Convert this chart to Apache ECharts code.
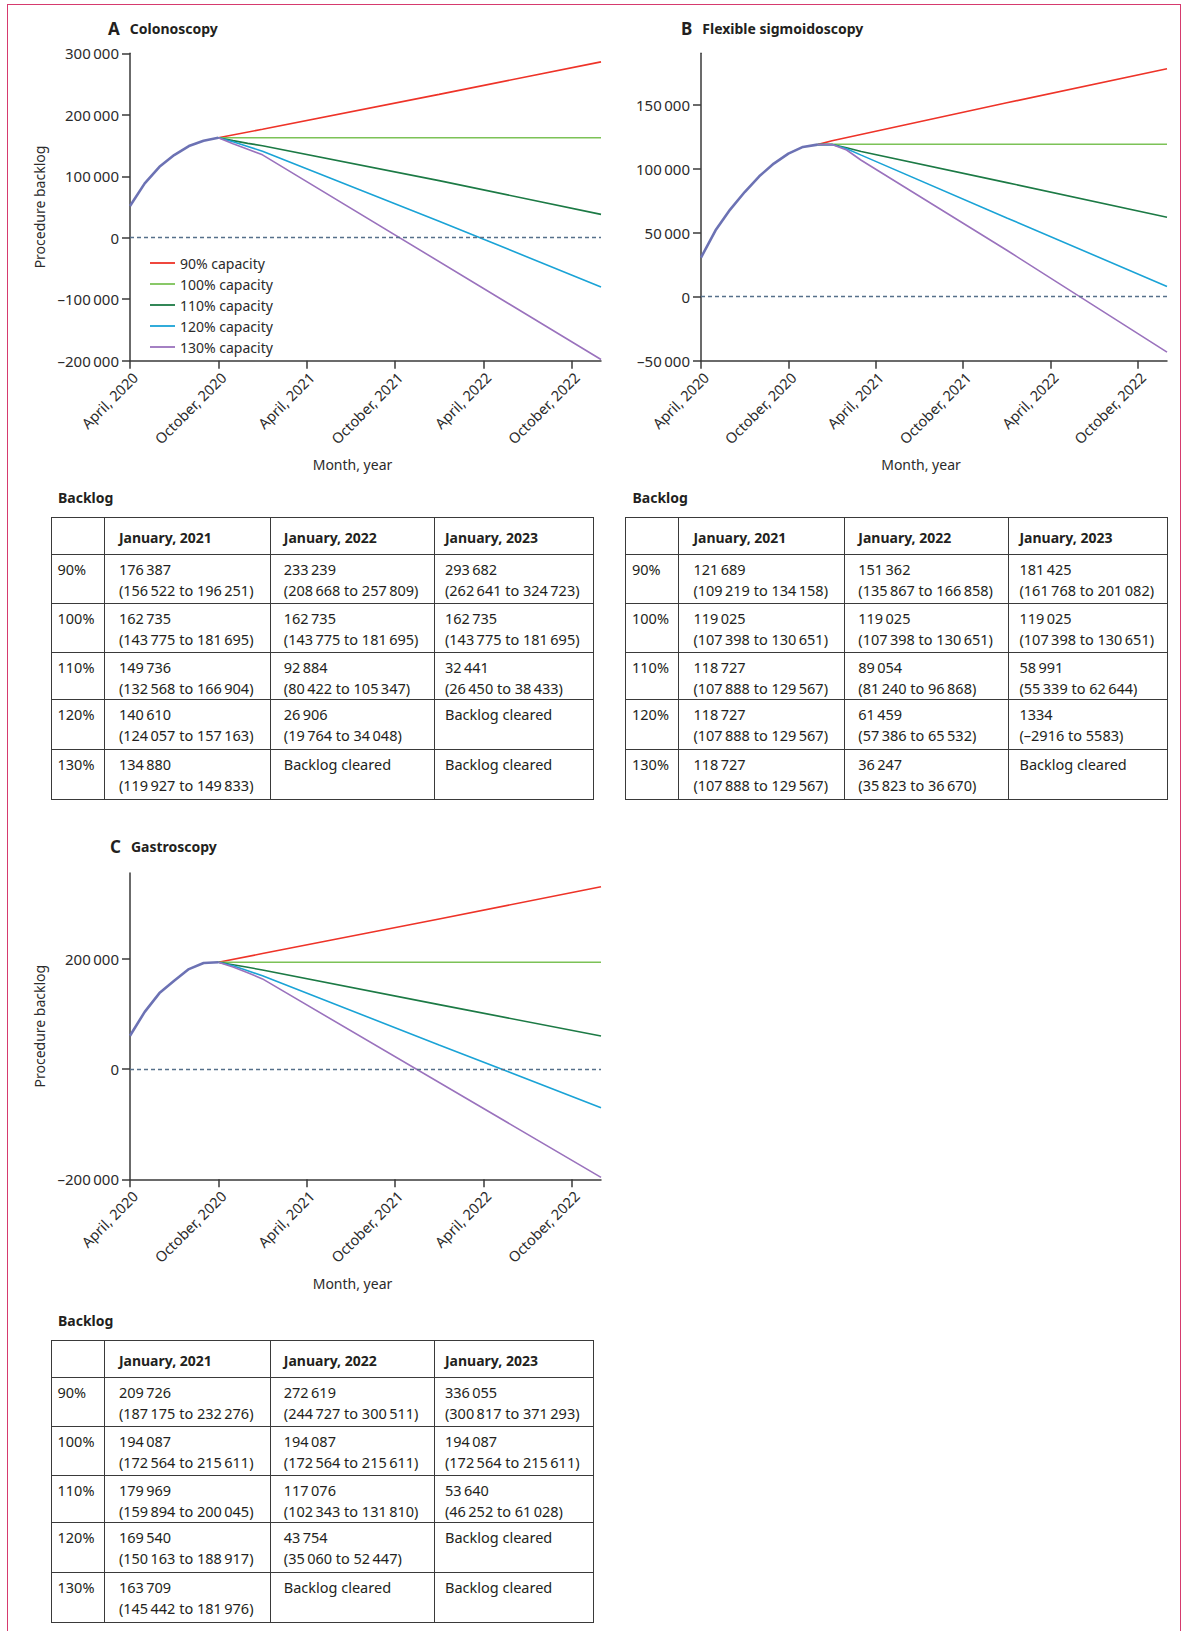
<!DOCTYPE html>
<html>
<head>
<meta charset="utf-8">
<script src="https://cdn.jsdelivr.net/npm/echarts@6/dist/echarts.min.js"></script>
<style>
  html, body { margin:0; padding:0; background:#fff; width:1184px; height:1631px; overflow:hidden; }
  #frame { position:absolute; left:7px; top:4px; width:1174px; height:1700px; border:1.5px solid #d63a6e; box-sizing:border-box; }
  #chart { position:absolute; left:0; top:0; width:1184px; height:1631px; }
  .tt { position:absolute; font-family:'Noto Sans', sans-serif; font-weight:bold; font-size:14px; color:#231f20; line-height:20px; }
  table.bt { position:absolute; border-collapse:collapse; table-layout:fixed; font-family:'Noto Sans', sans-serif; font-size:14.5px; color:#231f20; }
  table.bt td, table.bt th { border:1.5px solid #3a3a3a; vertical-align:top; padding:4px 2px 0 13px; line-height:21px; text-align:left; white-space:nowrap; overflow:hidden; }
  table.bt th { font-weight:bold; font-size:14px; vertical-align:middle; padding-top:3px; }
  table.bt .c0 { padding-left:6px; }
  table.bt .c1 { padding-left:14px; }
  table.bt .c2 { padding-left:13px; }
  table.bt .c3 { padding-left:10px; }
</style>
</head>
<body>
<div id="frame"></div>
<div id="chart"></div>
<script>
// ---------- shared labels ----------
const tickMonths = [0, 6, 12, 18, 24, 30];            // months since April, 2020
const tickLabels = ['April, 2020', 'October, 2020', 'April, 2021', 'October, 2021', 'April, 2022', 'October, 2022'];
const scenarioNames = ['90% capacity', '100% capacity', '110% capacity', '120% capacity', '130% capacity'];
const scenarioColors = ['#ee3328', '#7cc257', '#1c7a45', '#1aa3d6', '#9a72bd'];
const rowLabels = ['90%', '100%', '110%', '120%', '130%'];
const colLabels = ['January, 2021', 'January, 2022', 'January, 2023'];

// ---------- A Colonoscopy ----------
const colonoscopyObserved = [[0, 51500], [1, 88400], [2, 115400], [3, 134500], [4, 149100], [5, 157700], [6, 162735]];
const colonoscopy90 = [[6, 162735], [9, 176387], [21, 233239], [32, 286000]];
const colonoscopy100 = [[6, 162735], [9, 162735], [21, 162735], [32, 162735]];
const colonoscopy110 = [[6, 162735], [7, 158000], [8, 153500], [9, 149736], [21, 92884], [32, 38000]];
const colonoscopy120 = [[6, 162735], [7, 156000], [8, 148500], [9, 140610], [21, 26906], [32, -80000]];
const colonoscopy130 = [[6, 162735], [7, 153000], [8, 144000], [9, 134880], [32, -198000]];
const colonoscopyYTicks = [-200000, -100000, 0, 100000, 200000, 300000];
const colonoscopyTable = [
  ['176\u2009387<br>(156\u2009522 to 196\u2009251)', '233\u2009239<br>(208\u2009668 to 257\u2009809)', '293\u2009682<br>(262\u2009641 to 324\u2009723)'],
  ['162\u2009735<br>(143\u2009775 to 181\u2009695)', '162\u2009735<br>(143\u2009775 to 181\u2009695)', '162\u2009735<br>(143\u2009775 to 181\u2009695)'],
  ['149\u2009736<br>(132\u2009568 to 166\u2009904)', '92\u2009884<br>(80\u2009422 to 105\u2009347)', '32\u2009441<br>(26\u2009450 to 38\u2009433)'],
  ['140\u2009610<br>(124\u2009057 to 157\u2009163)', '26\u2009906<br>(19\u2009764 to 34\u2009048)', 'Backlog cleared'],
  ['134\u2009880<br>(119\u2009927 to 149\u2009833)', 'Backlog cleared', 'Backlog cleared']
];

// ---------- B Flexible sigmoidoscopy ----------
const sigmoidObserved = [[0, 30500], [1, 51800], [2, 68000], [3, 81700], [4, 94000], [5, 103900], [6, 111700], [7, 116900], [8, 118700]];
const sigmoid90 = [[8, 118700], [9, 121689], [21, 151362], [32, 178000]];
const sigmoid100 = [[8, 118700], [9, 119025], [21, 119025], [32, 119025]];
const sigmoid110 = [[8, 118700], [9, 118727], [10, 116300], [11, 113300], [21, 89054], [32, 62000]];
const sigmoid120 = [[8, 118700], [9, 118727], [10, 115500], [11, 110500], [21, 61459], [32, 8000]];
const sigmoid130 = [[8, 118700], [9, 118727], [10, 114500], [11, 106500], [21, 36247], [32, -43300]];
const sigmoidYTicks = [-50000, 0, 50000, 100000, 150000];
const sigmoidTable = [
  ['121\u2009689<br>(109\u2009219 to 134\u2009158)', '151\u2009362<br>(135\u2009867 to 166\u2009858)', '181\u2009425<br>(161\u2009768 to 201\u2009082)'],
  ['119\u2009025<br>(107\u2009398 to 130\u2009651)', '119\u2009025<br>(107\u2009398 to 130\u2009651)', '119\u2009025<br>(107\u2009398 to 130\u2009651)'],
  ['118\u2009727<br>(107\u2009888 to 129\u2009567)', '89\u2009054<br>(81\u2009240 to 96\u2009868)', '58\u2009991<br>(55\u2009339 to 62\u2009644)'],
  ['118\u2009727<br>(107\u2009888 to 129\u2009567)', '61\u2009459<br>(57\u2009386 to 65\u2009532)', '1334<br>(\u20132916 to 5583)'],
  ['118\u2009727<br>(107\u2009888 to 129\u2009567)', '36\u2009247<br>(35\u2009823 to 36\u2009670)', 'Backlog cleared']
];

// ---------- C Gastroscopy ----------
const gastroObserved = [[0, 60500], [1, 104000], [2, 138000], [3, 160500], [4, 181600], [5, 192700], [6, 194087]];
const gastro90 = [[6, 194087], [9, 209726], [21, 272619], [32, 331000]];
const gastro100 = [[6, 194087], [9, 194087], [21, 194087], [32, 194087]];
const gastro110 = [[6, 194087], [7, 189500], [8, 184800], [9, 179969], [21, 117076], [32, 60000]];
const gastro120 = [[6, 194087], [7, 187500], [8, 178500], [9, 169540], [21, 43754], [32, -70000]];
const gastro130 = [[6, 194087], [7, 185500], [8, 175000], [9, 163709], [32, -196500]];
const gastroYTicks = [-200000, 0, 200000];
const gastroTable = [
  ['209\u2009726<br>(187\u2009175 to 232\u2009276)', '272\u2009619<br>(244\u2009727 to 300\u2009511)', '336\u2009055<br>(300\u2009817 to 371\u2009293)'],
  ['194\u2009087<br>(172\u2009564 to 215\u2009611)', '194\u2009087<br>(172\u2009564 to 215\u2009611)', '194\u2009087<br>(172\u2009564 to 215\u2009611)'],
  ['179\u2009969<br>(159\u2009894 to 200\u2009045)', '117\u2009076<br>(102\u2009343 to 131\u2009810)', '53\u2009640<br>(46\u2009252 to 61\u2009028)'],
  ['169\u2009540<br>(150\u2009163 to 188\u2009917)', '43\u2009754<br>(35\u2009060 to 52\u2009447)', 'Backlog cleared'],
  ['163\u2009709<br>(145\u2009442 to 181\u2009976)', 'Backlog cleared', 'Backlog cleared']
];

// ---------- layout ----------
const panels = [
  { letter: 'A', title: 'Colonoscopy', grid: { left: 130, top: 53.3, width: 471, height: 307.4 }, yMin: -200000, yMax: 300000, yTicks: colonoscopyYTicks, yName: 'Procedure backlog',
    observed: colonoscopyObserved, scen: [colonoscopy90, colonoscopy100, colonoscopy110, colonoscopy120, colonoscopy130], titlePos: { left: 103, top: 15 } },
  { letter: 'B', title: 'Flexible sigmoidoscopy', grid: { left: 701, top: 53.3, width: 466, height: 307.4 }, yMin: -50000, yMax: 190000, yTicks: sigmoidYTicks, yName: '',
    observed: sigmoidObserved, scen: [sigmoid90, sigmoid100, sigmoid110, sigmoid120, sigmoid130], titlePos: { left: 676, top: 15 } },
  { letter: 'C', title: 'Gastroscopy', grid: { left: 130, top: 873, width: 471, height: 306.3 }, yMin: -200000, yMax: 356000, yTicks: gastroYTicks, yName: 'Procedure backlog',
    observed: gastroObserved, scen: [gastro90, gastro100, gastro110, gastro120, gastro130], titlePos: { left: 105, top: 833 } }
];

const fmt = v => {
  const s = Math.abs(v).toString().replace(/\B(?=(\d{3})+(?!\d))/g, '\u2009');
  return (v < 0 ? '\u2013' : '') + s;
};
const axisColor = '#3a3a3a';
const textColor = '#2b2b2b';

const option = {
  animation: false,
  backgroundColor: 'transparent',
  textStyle: { fontFamily: 'Noto Sans' },
  title: panels.map(p => ({
    left: p.titlePos.left, top: p.titlePos.top,
    text: '{l|' + p.letter + '}{t|' + p.title + '}',
    textStyle: { rich: {
      l: { fontSize: 17, fontWeight: 'bold', color: '#231f20', padding: [0, 10, 0, 0], fontFamily: 'Noto Sans' },
      t: { fontSize: 14, fontWeight: 'bold', color: '#231f20', fontFamily: 'Noto Sans' }
    } }
  })),
  legend: {
    left: 145, top: 247.5, orient: 'vertical', icon: 'rect', itemWidth: 25, itemHeight: 1.8, itemGap: 0,
    data: scenarioNames, textStyle: { fontSize: 14, lineHeight: 21, color: textColor, fontFamily: 'Noto Sans' }, selectedMode: false
  },
  grid: panels.map(p => Object.assign({ outerBoundsMode: 'none', containLabel: false }, p.grid)),
  xAxis: panels.map((p, i) => ({
    type: 'value', gridIndex: i, min: 0, max: 32, interval: 6,
    axisLine: { onZero: false, lineStyle: { color: axisColor, width: 1.5 } },
    axisTick: { show: true, length: 8, customValues: tickMonths, lineStyle: { color: axisColor, width: 1.5 } },
    axisLabel: { customValues: tickMonths, rotate: 45, margin: 9, verticalAlign: 'top', fontSize: 14.5, color: textColor,
      formatter: v => tickLabels[tickMonths.indexOf(v)] || '' },
    splitLine: { show: false },
    name: 'Month, year', nameLocation: 'middle', nameGap: 97,
    nameTextStyle: { fontSize: 14, color: textColor, padding: [0, 26, 0, 0] }
  })),
  yAxis: panels.map((p, i) => ({
    type: 'value', gridIndex: i, min: p.yMin, max: p.yMax,
    axisLine: { show: true, onZero: false, lineStyle: { color: axisColor, width: 1.5 } },
    axisTick: { show: true, length: 8, customValues: p.yTicks, lineStyle: { color: axisColor, width: 1.5 } },
    axisLabel: { customValues: p.yTicks, formatter: fmt, fontSize: 15, color: textColor, margin: 11 },
    splitLine: { show: false },
    name: p.yName, nameLocation: 'middle', nameGap: 84, nameRotate: 90,
    nameTextStyle: { fontSize: 14, color: textColor }
  })),
  series: []
};

panels.forEach((p, i) => {
  p.scen.forEach((d, k) => {
    option.series.push({
      type: 'line', name: scenarioNames[k], xAxisIndex: i, yAxisIndex: i, data: d,
      symbol: 'none', color: scenarioColors[k], lineStyle: { color: scenarioColors[k], width: 1.6 }
    });
  });
  option.series.push({
    type: 'line', name: 'Observed backlog', xAxisIndex: i, yAxisIndex: i, data: p.observed,
    symbol: 'none', color: '#6c72b4', lineStyle: { color: '#6c72b4', width: 2.6 }, z: 3,
    markLine: { silent: true, symbol: ['none', 'none'], label: { show: false },
      lineStyle: { type: [4, 3], color: '#56708a', width: 1.3 }, data: [{ yAxis: 0 }] }
  });
});

const chart = echarts.init(document.getElementById('chart'), null, { renderer: 'svg', width: 1184, height: 1631 });
chart.setOption(option);

// ---------- tables ----------
const colWidths = [53.4, 165.9, 164.2, 158.6];
const rowHeights = [37, 49, 49, 47, 50, 50];
function makeTable(rows, left, top) {
  const lab = document.createElement('div');
  lab.className = 'tt';
  lab.style.left = (left + 7.5) + 'px';
  lab.style.top = (top - 29) + 'px';
  lab.textContent = 'Backlog';
  document.body.appendChild(lab);
  const t = document.createElement('table');
  t.className = 'bt';
  t.style.left = left + 'px';
  t.style.top = top + 'px';
  t.style.width = colWidths.reduce((a, b) => a + b, 0) + 'px';
  let html = '<colgroup>' + colWidths.map(w => '<col style="width:' + w + 'px">').join('') + '</colgroup>';
  html += '<tr style="height:' + rowHeights[0] + 'px"><th class="c0"></th>' + colLabels.map((c, j) => '<th class="c' + (j + 1) + '">' + c + '</th>').join('') + '</tr>';
  rows.forEach((r, i) => {
    html += '<tr style="height:' + rowHeights[i + 1] + 'px"><td class="c0">' + rowLabels[i] + '</td>' + r.map((c, j) => '<td class="c' + (j + 1) + '">' + c + '</td>').join('') + '</tr>';
  });
  t.innerHTML = html;
  document.body.appendChild(t);
}
makeTable(colonoscopyTable, 50.5, 517.3);
makeTable(sigmoidTable, 625, 517.3);
makeTable(gastroTable, 50.5, 1340);
</script>
</body>
</html>
